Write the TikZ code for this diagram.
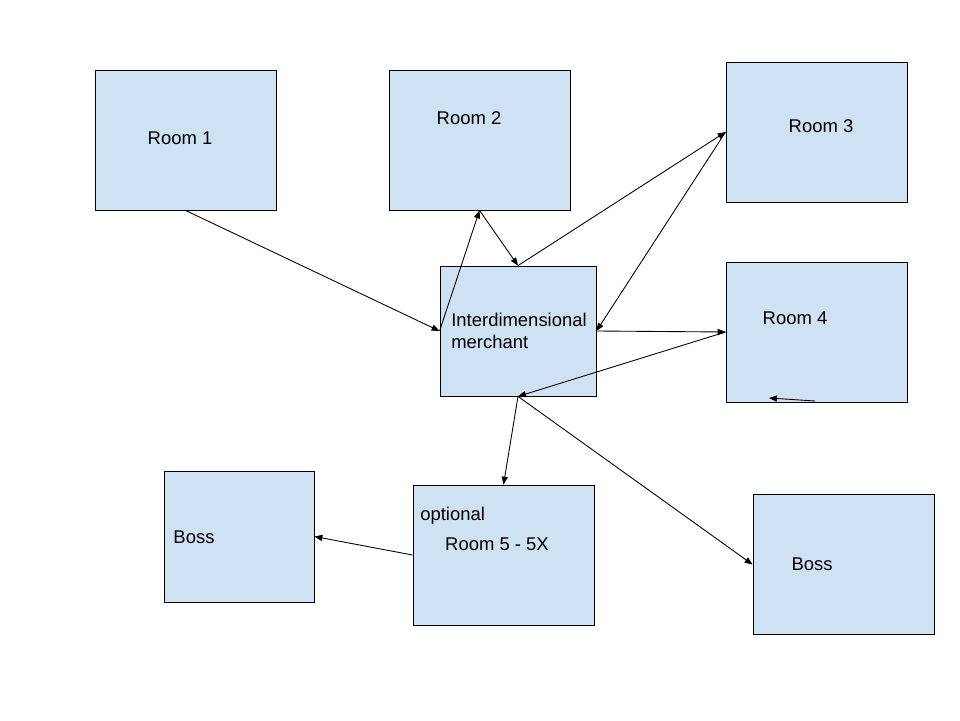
\documentclass[tikz,border=0pt]{standalone}
\usepackage{fontspec}
\setmainfont{Liberation Sans}
\usetikzlibrary{positioning,arrows.meta}
\definecolor{boxblue}{RGB}{207,226,243}

\begin{document}
\begin{tikzpicture}[x=0.02cm,y=-0.02cm,
		room/.style={draw=black,fill=boxblue,line width=0.5pt,minimum width=#1*0.02cm,minimum height=2.8cm,inner sep=0pt},
		room/.default=181,
		txt/.style={font=\fontsize{10.5}{12.5}\selectfont,inner sep=0pt},
		>={Triangle[length=4.5pt,width=3.5pt]},
		link/.style={->,line width=0.5pt}]
		\useasboundingbox[fill=white] (0,0) rectangle (960,720);
		% rooms
		\node[room] (r1) at (185.5,140) {};
		\node[room] (r2) at (479.5,140) {};
		\node[room] (r3) at (816.5,132) {};
		\node[room=156,minimum height=2.6cm] (m) at (518,331) {};
		\node[room] (r4) at (816.5,332) {};
		\node[room=150,minimum height=2.62cm] (b1) at (239,536.5) {};
		\node[room] (r5) at (503.5,555) {};
		\node[room] (b2) at (843.5,564.5) {};
		% texts
		\node[txt] at (180,138) {Room 1};
		\node[txt] at (469,118) {Room 2};
		\node[txt] at (821,126) {Room 3};
		\node[txt,anchor=west,align=left] at (451,331) {Interdimensional\\merchant};
		\node[txt] at (795,318) {Room 4};
		\node[txt] at (194,537) {Boss};
		\node[txt,anchor=west] at (420,516) {optional};
		\node[txt] at (497,544) {Room 5 - 5X};
		\node[txt] at (812,564) {Boss};
		% connectors
		\draw[link] (r1.south) -- (m.west);
		\draw[link] (m.west) -- (r2.south);
		\draw[link] (r2.south) -- (m.north);
		\draw[link] (m.north) -- (r3.west);
		\draw[link] (r3.west) -- (m.east);
		\draw[link] (m.east) -- (r4.west);
		\draw[link] (r4.west) -- (m.south);
		\draw[link] (m.south) -- (r5.north);
		\draw[link] (m.south) -- (b2.west);
		\draw[link] (r5.west) -- (b1.east);
		\coordinate (r4a) at (815,401);
		\coordinate (r4b) at (769,398);
		\draw[link] (r4a) -- (r4b);
	\end{tikzpicture}
\end{document}
